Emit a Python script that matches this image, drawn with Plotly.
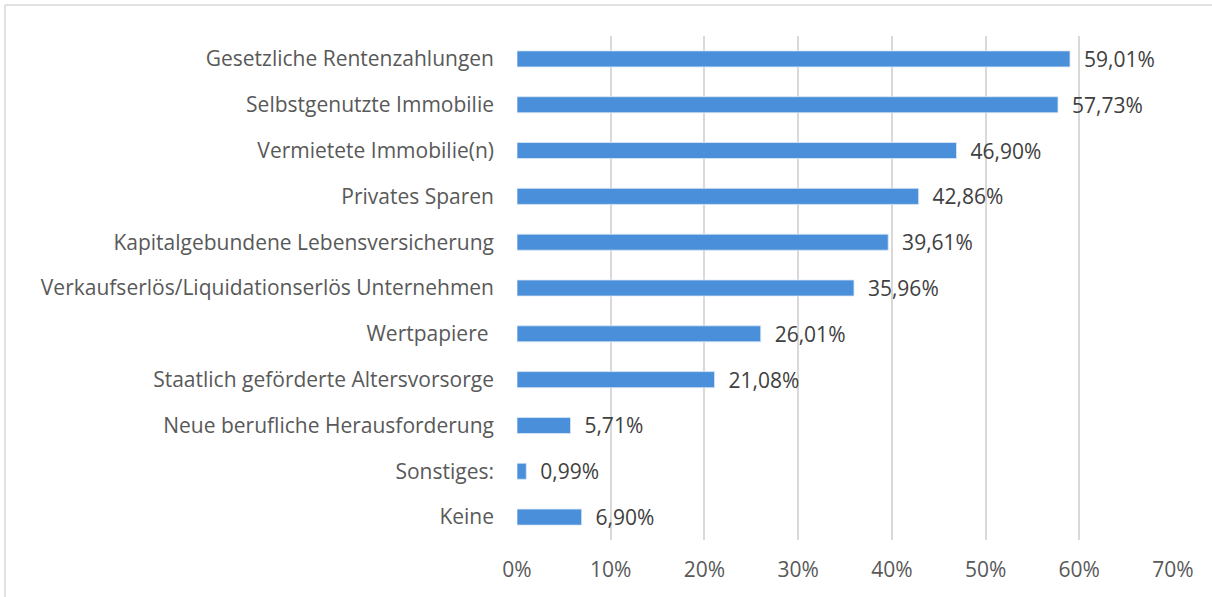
import plotly.graph_objects as go

categories = [
    "Gesetzliche Rentenzahlungen",
    "Selbstgenutzte Immobilie",
    "Vermietete Immobilie(n)",
    "Privates Sparen",
    "Kapitalgebundene Lebensversicherung",
    "Verkaufserlös/Liquidationserlös Unternehmen",
    "Wertpapiere ",
    "Staatlich geförderte Altersvorsorge",
    "Neue berufliche Herausforderung",
    "Sonstiges:",
    "Keine",
]
values = [59.01, 57.73, 46.90, 42.86, 39.61, 35.96, 26.01, 21.08, 5.71, 0.99, 6.90]
tick_vals = [0, 10, 20, 30, 40, 50, 60, 70]
tick_text = ["0%", "10%", "20%", "30%", "40%", "50%", "60%", "70%"]

labels = [f"{v:.2f}".replace(".", ",") + "%" for v in values]

FONT = "Open Sans, sans-serif"
FS = 21
W, H = 1212, 597
L, R, T, B = 517, 39, 36, 57
pw, ph = W - L - R, H - T - B

fig = go.Figure(go.Bar(
    x=values,
    y=categories,
    orientation="h",
    marker=dict(color="#4A8FDA", line=dict(color="#DCE8F5", width=0.8)),
    width=0.35,
    text=labels,
    texttemplate="  %{text}",
    textposition="outside",
    constraintext="none",
    textfont=dict(family=FONT, size=FS, color="#404040"),
    cliponaxis=False,
    hoverinfo="skip",
))

fig.update_layout(
    width=W, height=H,
    margin=dict(l=L, r=R, t=T, b=B, pad=0),
    paper_bgcolor="white",
    plot_bgcolor="white",
    showlegend=False,
    font=dict(family=FONT, size=FS, color="#595959"),
    xaxis=dict(
        range=[0, 70],
        tickmode="array",
        tickvals=tick_vals,
        ticktext=tick_text,
        showgrid=True,
        gridcolor="#D9D9D9",
        gridwidth=1.5,
        zeroline=False,
        showline=False,
        ticks="",
        ticklabelstandoff=15,
        tickfont=dict(family=FONT, size=FS, color="#595959"),
    ),
    yaxis=dict(
        autorange="reversed",
        showgrid=False,
        ticks="",
        showline=False,
        ticklabelstandoff=22,
        tickfont=dict(family=FONT, size=FS, color="#595959"),
    ),
    shapes=[
        dict(type="line", xref="paper", yref="paper",
             x0=(5 - L) / pw, x1=(W - L) / pw,
             y0=1 + (T - 5) / ph, y1=1 + (T - 5) / ph,
             line=dict(color="#D9D9D9", width=1.5)),
        dict(type="line", xref="paper", yref="paper",
             x0=(5 - L) / pw, x1=(5 - L) / pw,
             y0=1 + (T - 5) / ph, y1=-(B + 5) / ph,
             line=dict(color="#D9D9D9", width=1.5)),
    ],
)

fig.write_html(
    "out.html",
    config={"displayModeBar": False},
    post_script="document.body.style.margin='0';document.body.style.overflow='hidden';",
)
